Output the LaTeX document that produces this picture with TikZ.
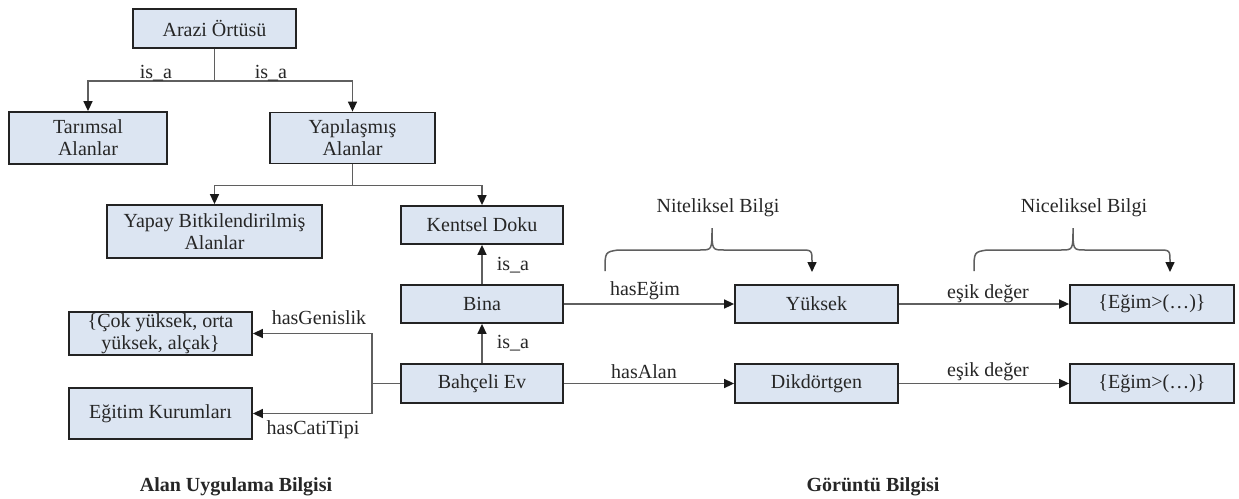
\documentclass[tikz,border=0pt]{standalone}
\usepackage{fontspec}
\IfFontExistsTF{Liberation Serif}{\setmainfont{Liberation Serif}\newfontfamily\tnr{Liberation Serif}}{\newfontfamily\tnr{Latin Modern Roman}}
\usetikzlibrary{arrows.meta}
\definecolor{boxfill}{RGB}{220,229,242}
\definecolor{boxline}{RGB}{35,35,35}
\definecolor{conncol}{RGB}{95,95,95}
\definecolor{tipcol}{RGB}{25,25,25}
\begin{document}
\begin{tikzpicture}[x=1pt,y=-1pt,
  box/.style={draw=boxline, line width=1.8pt, fill=boxfill, inner sep=0pt, align=center,
    font=\tnr\fontsize{20}{22}\selectfont, text=black!85},
  conn/.style={draw=conncol, line width=1.5pt, -{Triangle[length=10pt,width=9pt,color=tipcol]}},
  lbl/.style={inner sep=0pt, font=\tnr\fontsize{20}{22}\selectfont, text=black!85},
  title/.style={inner sep=0pt, font=\tnr\fontsize{20}{22}\selectfont\bfseries, text=black!85}]
\fill[white] (0,0) rectangle (1239,498);
\useasboundingbox (0,0) rectangle (1239,498);

% boxes
\node[box, minimum width=163pt, minimum height=39pt] (arazi) at (214.5,28.5) {Arazi Örtüsü};
\node[box, minimum width=158pt, minimum height=52pt] (tarim) at (88,138) {Tarımsal\\Alanlar};
\node[box, minimum width=165pt, minimum height=51pt] (yapil) at (352.5,138) {Yapılaşmış\\Alanlar};
\node[box, minimum width=215pt, minimum height=53pt] (yapay) at (214.5,231.5) {Yapay Bitkilendirilmiş\\Alanlar};
\node[box, minimum width=162pt, minimum height=38pt] (kentsel) at (482,225) {Kentsel Doku};
\node[box, minimum width=162pt, minimum height=38pt] (bina) at (482,304) {Bina};
\node[box, minimum width=162pt, minimum height=39pt] (bahce) at (482,383.5) {Bahçeli Ev};
\node[box, minimum width=183pt, minimum height=43pt] (cok) at (160.5,333.5) {\{Çok yüksek, orta\\yüksek, alçak\}};
\node[box, minimum width=183pt, minimum height=51pt] (egitim) at (160.5,413.5) {Eğitim Kurumları};
\node[box, minimum width=163pt, minimum height=38pt] (yuksek) at (816.5,304) {Yüksek};
\node[box, minimum width=163pt, minimum height=39pt] (dik) at (816.5,383.5) {Dikdörtgen};
\node[box, minimum width=164pt, minimum height=38pt] (egim1) at (1152,304) {\{Eğim>(…)\}};
\node[box, minimum width=164pt, minimum height=39pt] (egim2) at (1152,383.5) {\{Eğim>(…)\}};

% tree connectors
\draw[conn] (arazi.south) -- ++(0,32) -| (tarim.north);
\draw[conn] (arazi.south) -- ++(0,32) -| (yapil.north);
\draw[conn] (yapil.south) -- ++(0,21) -| (yapay.north);
\draw[conn] (yapil.south) -- ++(0,21) -| (kentsel.north);
\draw[conn] (bina.north) -- (kentsel.south);
\draw[conn] (bahce.north) -- (bina.south);
\draw[conn] (bina.east) -- (yuksek.west);
\draw[conn] (bahce.east) -- (dik.west);
\draw[conn] (yuksek.east) -- (egim1.west);
\draw[conn] (dik.east) -- (egim2.west);
\draw[conn] (bahce.west) -- ++(-28,0) |- (cok.east);
\draw[conn] (bahce.west) -- ++(-28,0) |- (egitim.east);

% connector labels
\node[lbl] (isa1) at (156,73) {is\_a};
\node[lbl] (isa2) at (271,73) {is\_a};
\node[lbl] (isa3) at (513,265) {is\_a};
\node[lbl] (isa4) at (513,343) {is\_a};
\node[lbl] (hasegim) at (645,291) {hasEğim};
\node[lbl] (hasalan) at (644,372) {hasAlan};
\node[lbl] (esik1) at (988,294) {eşik değer};
\node[lbl] (esik2) at (988,372) {eşik değer};
\node[lbl] (hasgen) at (319,318) {hasGenislik};
\node[lbl] (hascati) at (313,430) {hasCatiTipi};

% braces
\node[lbl] (nitel) at (718,208) {Niteliksel Bilgi};
\node[lbl] (nicel) at (1084,208) {Niceliksel Bilgi};
\coordinate (b1s) at (605,271);
\coordinate (b1e) at (812,272);
\coordinate (b2s) at (974,271);
\coordinate (b2e) at (1170,272);
\draw[conn] (b1s) .. controls (605,252) .. (618,250) -- (700,250)
  .. controls (712,250) .. (712,228) .. controls (712,250) .. (724,250) -- (800,250)
  .. controls (812,250) .. (812,262) -- (b1e);
\draw[conn] (b2s) .. controls (974,252) .. (987,250) -- (1061,250)
  .. controls (1073,250) .. (1073,228) .. controls (1073,250) .. (1085,250) -- (1158,250)
  .. controls (1170,250) .. (1170,262) -- (b2e);

% section titles
\node[title] (t1) at (236,487) {Alan Uygulama Bilgisi};
\node[title] (t2) at (873,487) {Görüntü Bilgisi};
\end{tikzpicture}
\end{document}
